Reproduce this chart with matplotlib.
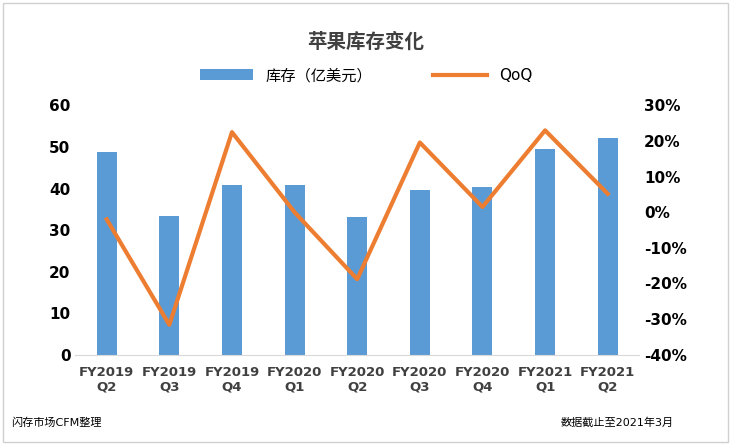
import matplotlib.pyplot as plt
from matplotlib import font_manager
from matplotlib.patches import Rectangle

names = {f.name for f in font_manager.fontManager.ttflist}
cjk = [n for n in ['Noto Sans CJK SC', 'Noto Sans CJK JP', 'Noto Sans CJK TC',
                   'Noto Sans CJK KR', 'Noto Sans SC'] if n in names]
plt.rcParams['font.family'] = ['DejaVu Sans'] + cjk

quarters = ['FY2019\nQ2', 'FY2019\nQ3', 'FY2019\nQ4', 'FY2020\nQ1', 'FY2020\nQ2',
            'FY2020\nQ3', 'FY2020\nQ4', 'FY2021\nQ1', 'FY2021\nQ2']
inventory = [48.8, 33.4, 40.9, 40.9, 33.2, 39.7, 40.3, 49.6, 52.2]
qoq = [-2.0, -31.6, 22.5, 0.0, -18.8, 19.6, 1.5, 23.0, 5.2]

fig = plt.figure(figsize=(7.32, 4.45), dpi=100)
fig.patches.append(Rectangle((0.004, 0.006), 0.99, 0.988, transform=fig.transFigure,
                             fill=False, edgecolor='#d0d0d0', lw=1))
ax = fig.add_axes([0.103, 0.203, 0.77, 0.56])
x = range(len(quarters))
bars = ax.bar(x, inventory, width=0.32, color='#5b9bd5', label='库存（亿美元）')
ax.set_ylim(0, 60)
ax.set_yticks(range(0, 61, 10))
ax.set_xlim(-0.5, len(quarters) - 0.5)
ax.set_xticks(list(x))
ax.set_xticklabels(quarters, fontweight='bold', fontsize=9.5, color='#404040')
ax.tick_params(axis='x', length=0, pad=8)
ax.tick_params(axis='y', length=0, labelsize=11)
for lab in ax.get_yticklabels():
    lab.set_fontweight('bold')
for s in ['top', 'right', 'left']:
    ax.spines[s].set_visible(False)
ax.spines['bottom'].set_color('#d9d9d9')

ax2 = ax.twinx()
line, = ax2.plot(x, qoq, color='#ed7d31', lw=3, label='QoQ')
ax2.set_ylim(-40, 30)
ax2.set_yticks(range(-40, 31, 10))
ax2.set_yticklabels([f'{v}%' for v in range(-40, 31, 10)], fontweight='bold', fontsize=11)
ax2.tick_params(axis='y', length=0)
for s in ['top', 'right', 'left', 'bottom']:
    ax2.spines[s].set_visible(False)

fig.text(0.5, 0.905, '苹果库存变化', ha='center', va='center', fontsize=14,
         fontweight='bold', color='#404040')
fig.legend([bars, line], ['库存（亿美元）', 'QoQ'], loc='center', ncol=2,
           bbox_to_anchor=(0.5, 0.83), frameon=False, fontsize=11, handlelength=3.5,
           columnspacing=4)
fig.text(0.015, 0.05, '闪存市场CFM整理', fontsize=8, va='center')
fig.text(0.92, 0.05, '数据截止至2021年3月', fontsize=8, va='center', ha='right')
fig.savefig('out.png', dpi=100)
